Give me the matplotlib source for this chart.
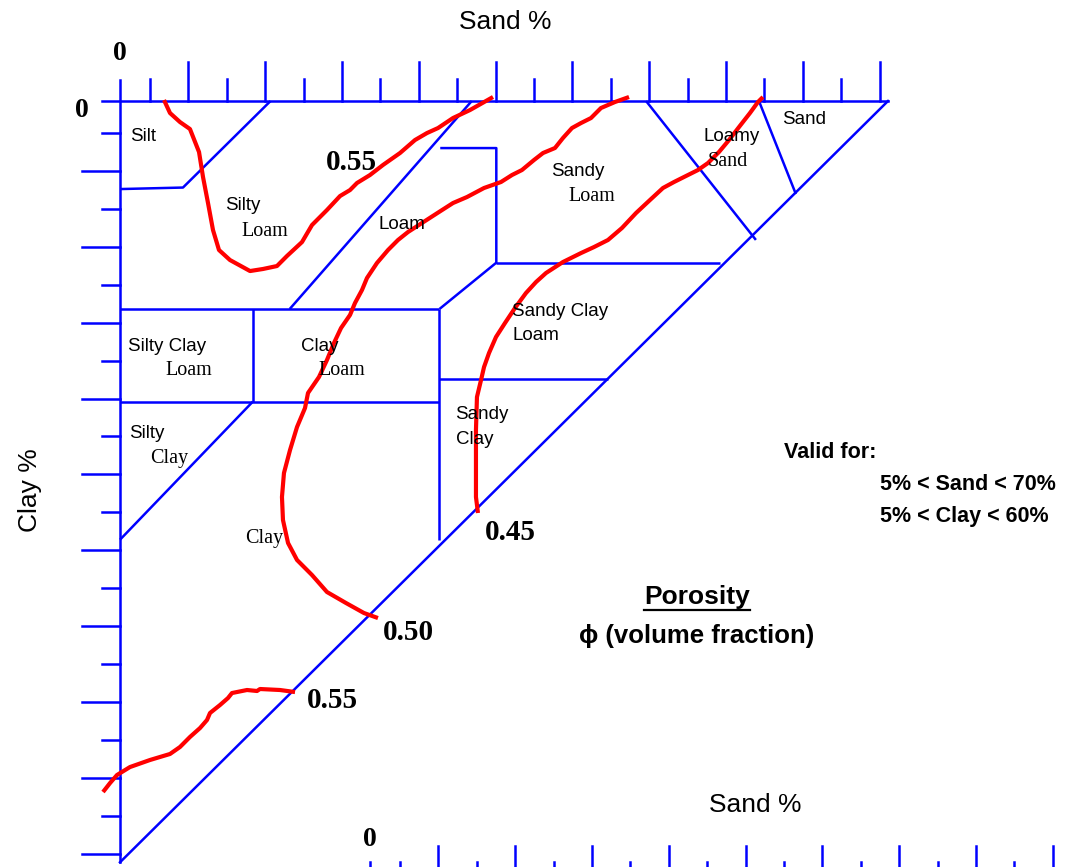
import matplotlib
matplotlib.use("Agg")
import matplotlib.pyplot as plt
from matplotlib.lines import Line2D

# coordinates are sand % (x) and clay % (y, downwards)
BLUE = "#0000ff"
RED = "#ff0000"
SANS = ["Liberation Sans", "DejaVu Sans"]
SERIF = ["Liberation Serif", "DejaVu Serif"]

# tick marks: spacing 5 %, first mark a bit off the origin (as in the scan)
tick_step = 5
sand_tick_offset = 3.9
clay_tick_offset = 4.2
n_ticks = 20
bottom_axis_origin = 32.55   # the second sand scale under the triangle
n_bottom_ticks = 18

# texture class boundaries (sand %, clay %)
silt_line = ([0, 8.2, 19.6], [11.6, 11.4, 0])
loam_left = ([22.1, 45.8], [27.4, 0])
loam_right = ([41.7, 49.0, 49.0, 41.6], [6.2, 6.2, 21.3, 27.4])
sandy_loam_base = ([49.0, 78.1], [21.3, 21.3])
clay_loam_top = ([0, 41.6], [27.4, 27.4])
sandy_clay_left = ([41.6, 41.6], [27.4, 57.8])
sandy_clay_top = ([41.6, 63.5], [36.6, 36.6])
silty_clay_loam_right = ([17.3, 17.3], [27.4, 39.6])
clay_loam_base = ([0, 41.6], [39.6, 39.6])
silty_clay_line = ([17.3, 0], [39.6, 57.8])
loamy_sand_line = ([68.5, 82.8], [0, 18.3])
sand_line = ([83.2, 88.0], [0, 12.25])

# porosity contours
phi055_upper_sand = [5.73, 6.51, 7.81, 9.11, 10.29, 10.81, 11.46, 12.11, 12.89, 14.32,
                     16.93, 18.62, 20.44, 21.74, 23.70, 25.0, 26.95, 28.65, 29.95, 30.86,
                     32.55, 34.24, 36.46, 38.41, 39.97, 41.41, 43.36, 45.57, 48.57]
phi055_upper_clay = [-0.13, 1.58, 2.77, 3.69, 6.72, 10.01, 13.44, 17.0, 19.63, 20.95,
                     22.40, 22.13, 21.74, 20.42, 18.58, 16.34, 14.36, 12.52, 11.73, 10.80,
                     9.75, 8.43, 6.85, 5.14, 4.22, 3.56, 2.24, 1.19, -0.53]

phi050_sand = [66.28, 64.45, 62.63, 61.33, 60.03, 58.85, 57.68, 56.64, 55.08, 53.91,
               52.34, 51.04, 49.61, 47.40, 45.18, 43.36, 41.54, 39.32, 37.50, 36.20,
               34.90, 33.46, 32.16, 31.51, 30.60, 29.95, 28.78, 27.86, 26.95, 25.91,
               24.48, 24.09, 23.05, 22.14, 21.35, 21.09, 21.22, 21.88, 23.05, 25.0,
               26.95, 29.43, 31.77, 33.59]
phi050_clay = [-0.53, 0.13, 0.92, 2.24, 2.90, 3.56, 4.87, 6.19, 6.85, 7.77,
               9.09, 9.75, 10.67, 11.46, 12.65, 13.44, 14.62, 16.07, 17.26, 18.31,
               19.63, 21.34, 23.32, 24.90, 26.61, 28.19, 29.91, 31.88, 34.12, 36.36,
               38.47, 40.45, 42.95, 45.98, 49.01, 52.17, 55.20, 58.23, 60.47, 62.45,
               64.69, 66.14, 67.46, 68.12]

phi045_sand = [83.72, 83.07, 82.03, 80.60, 79.30, 77.99, 76.56, 75.26, 73.44, 72.14,
               70.70, 69.01, 67.19, 65.36, 63.54, 61.72, 60.03, 57.68, 55.47, 54.17,
               52.86, 51.43, 50.13, 48.96, 48.05, 47.40, 47.01, 46.48, 46.35, 46.35, 46.61]
phi045_clay = [-0.53, 0.13, 1.58, 3.43, 5.14, 6.72, 8.17, 9.09, 10.01, 10.67,
               11.46, 13.04, 14.76, 16.73, 18.31, 19.24, 20.03, 21.21, 22.66, 23.85,
               25.30, 27.27, 29.25, 31.09, 33.20, 35.05, 36.76, 39.00, 43.35, 52.17, 54.28]

phi055_lower_sand = [-2.21, -1.30, -0.39, 1.30, 3.91, 6.51, 7.81, 9.11, 10.42, 11.33,
                     11.72, 13.02, 14.06, 14.58, 16.54, 17.84, 18.23, 20.83, 22.79]
phi055_lower_clay = [91.04, 89.86, 88.80, 87.75, 86.82, 86.03, 85.11, 83.79, 82.61, 81.55,
                     80.63, 79.58, 78.66, 78.0, 77.60, 77.73, 77.47, 77.60, 77.87]

fig = plt.figure(figsize=(10.70, 8.67), dpi=100)
ax = fig.add_axes([0, 0, 1, 1])
ax.set_xlim(-15.625, 123.70)
ax.set_ylim(100.92, -13.31)
ax.axis("off")

blw = 1.8

# frame of the triangle
ax.plot([-2.34, 100], [0, 0], color=BLUE, lw=blw)
ax.plot([0, 0], [-2.8, 100.3], color=BLUE, lw=blw)
ax.plot([100, 0], [0, 100.3], color=BLUE, lw=blw)

# ticks, short / long alternating
for k in range(n_ticks):
    s = sand_tick_offset + k * tick_step
    top = -5.14 if k % 2 else -2.9
    ax.plot([s, s], [top, 0], color=BLUE, lw=blw)
    c = clay_tick_offset + k * tick_step
    left = -4.95 if k % 2 else -2.34
    ax.plot([left, 0], [c, c], color=BLUE, lw=blw)

ax.plot([bottom_axis_origin] * 2, [100.3, 102], color=BLUE, lw=blw)
for k in range(n_bottom_ticks):
    s = bottom_axis_origin + sand_tick_offset + k * tick_step
    top = 98.2 if k % 2 else 100.3
    ax.plot([s, s], [top, 102], color=BLUE, lw=blw)

for xs, ys in [silt_line, loam_left, loam_right, sandy_loam_base, clay_loam_top,
               sandy_clay_left, sandy_clay_top, silty_clay_loam_right, clay_loam_base,
               silty_clay_line, loamy_sand_line, sand_line]:
    ax.plot(xs, ys, color=BLUE, lw=blw, solid_capstyle="butt")

rlw = 3.0
for xs, ys in [(phi055_upper_sand, phi055_upper_clay), (phi050_sand, phi050_clay),
               (phi045_sand, phi045_clay), (phi055_lower_sand, phi055_lower_clay)]:
    ax.plot(xs, ys, color=RED, lw=rlw, solid_capstyle="butt", solid_joinstyle="round")

# class names: first line sans, second line mostly serif
def lab(x, y, s, fam=SANS, size=13.5, **kw):
    ax.text(x, y, s, family=fam, fontsize=size, ha="center", va="center", **kw)

lab(2.99, 4.74, "Silt")
lab(16.02, 13.83, "Silty")
lab(18.88, 17.13, "Loam", SERIF, 14.5)
lab(36.72, 16.21, "Loam")
lab(59.64, 9.35, "Sandy")
lab(61.46, 12.52, "Loam", SERIF, 14.5)
lab(79.69, 4.74, "Loamy")
lab(79.17, 7.91, "Sand", SERIF, 14.5)
lab(89.06, 2.37, "Sand")
lab(6.12, 32.28, "Silty Clay")
lab(8.98, 35.44, "Loam", SERIF, 14.5)
lab(26.04, 32.28, "Clay")
lab(28.91, 35.44, "Loam", SERIF, 14.5)
lab(57.29, 27.67, "Sandy Clay")
lab(54.17, 30.83, "Loam")
lab(47.14, 41.24, "Sandy")
lab(46.22, 44.66, "Clay")
lab(3.52, 43.74, "Silty")
lab(6.38, 47.04, "Clay", SERIF, 14.5)
lab(18.75, 57.58, "Clay", SERIF, 14.5)

# contour values
for x, y, s in [(30.08, 8.04, "0.55"), (50.78, 56.79, "0.45"),
                (37.5, 69.96, "0.50"), (27.6, 78.92, "0.55")]:
    lab(x, y, s, SERIF, 21, weight="bold")

# axis names and zeros
lab(50.13, -10.41, "Sand %", SANS, 19)
lab(82.68, 92.75, "Sand %", SANS, 19)
lab(-11.72, 51.25, "Clay %", SANS, 19, rotation=90)
lab(0, -6.3, "0", SERIF, 20, weight="bold")
lab(-4.95, 1.19, "0", SERIF, 20, weight="bold")
lab(32.55, 97.36, "0", SERIF, 20, weight="bold")

ax.text(86.46, 46.25, "Valid for:", family=SANS, fontsize=15.5, weight="bold",
        ha="left", va="center")
ax.text(98.96, 50.59, "5% < Sand < 70%", family=SANS, fontsize=15.5, weight="bold",
        ha="left", va="center")
ax.text(98.96, 54.68, "5% < Clay < 60%", family=SANS, fontsize=15.5, weight="bold",
        ha="left", va="center")

por = ax.text(75.13, 65.35, "Porosity", family=SANS, fontsize=19, weight="bold",
              ha="center", va="center")
lab(75.13, 70.49, "\u03d5 (volume fraction)", SANS, 18.5, weight="bold")

# underline under "Porosity"
fig.canvas.draw()
bb = por.get_window_extent()
W, H = fig.bbox.width, fig.bbox.height
fig.add_artist(Line2D([bb.x0 / W, bb.x1 / W], [(bb.y0 - 1) / H] * 2,
                      color="black", lw=1.6))

fig.savefig("out.png", dpi=100)
